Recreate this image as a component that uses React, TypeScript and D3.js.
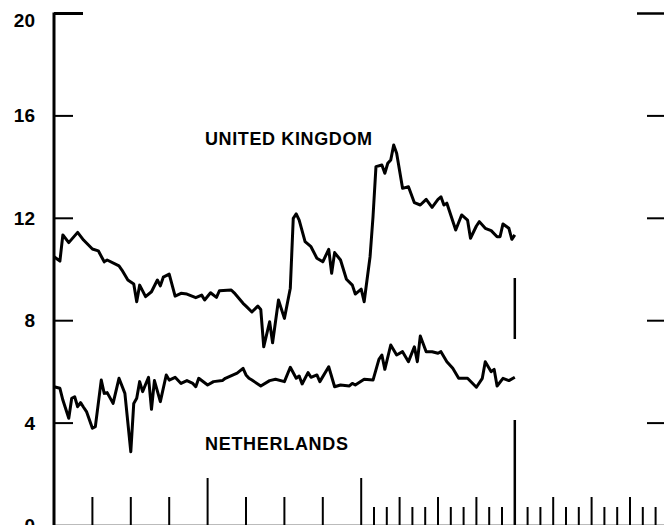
import React from 'react'
import * as d3 from 'd3'

// weekly readings, week 0 = start of the first year
const ukWeeks = [0, 2, 3, 5, 8, 10, 13, 15, 17, 18, 22, 23, 25, 27, 28, 29, 31, 33, 35, 36, 37, 39, 41, 43, 45, 48, 50, 51, 53, 55, 56, 60, 61, 64, 65, 67, 69, 70, 71, 73, 74, 76, 78, 80, 81, 82, 83, 85, 87, 89, 91, 93, 94, 95, 97, 99, 101, 102, 104, 105, 107, 108, 109, 111, 112, 113, 114, 115, 116, 118, 120, 122, 124, 126, 128, 130, 131, 132, 133, 136, 138, 140, 141, 143, 144, 146, 148, 150, 151, 152, 154, 155, 156]
const ukRates = [10.5, 10.33, 11.35, 11.05, 11.45, 11.15, 10.8, 10.73, 10.3, 10.37, 10.14, 9.98, 9.59, 9.43, 8.74, 9.39, 8.94, 9.13, 9.59, 9.36, 9.7, 9.82, 8.96, 9.07, 9.04, 8.9, 9.0, 8.81, 9.09, 8.91, 9.17, 9.2, 9.09, 8.68, 8.57, 8.34, 8.57, 8.44, 6.98, 7.96, 7.14, 8.81, 8.09, 9.27, 12.0, 12.17, 11.93, 11.09, 10.89, 10.44, 10.3, 10.79, 9.85, 10.66, 10.37, 9.62, 9.39, 9.04, 9.23, 8.74, 10.5, 12.06, 14.02, 14.08, 13.76, 14.15, 14.28, 14.86, 14.54, 13.17, 13.23, 12.61, 12.52, 12.74, 12.43, 12.74, 12.84, 12.52, 12.59, 11.54, 12.13, 11.93, 11.22, 11.7, 11.87, 11.61, 11.52, 11.28, 11.28, 11.78, 11.61, 11.18, 11.35]

const nlWeeks = [0, 2, 3, 5, 6, 7, 8, 9, 10, 11, 13, 14, 16, 17, 18, 20, 22, 24, 26, 27, 28, 29, 30, 32, 33, 34, 36, 38, 39, 41, 43, 45, 47, 48, 49, 52, 54, 57, 58, 62, 64, 65, 66, 67, 70, 73, 75, 78, 80, 82, 83, 84, 86, 87, 89, 90, 93, 95, 97, 100, 101, 102, 105, 108, 110, 111, 112, 114, 116, 118, 120, 122, 123, 124, 126, 128, 130, 131, 133, 135, 137, 140, 143, 145, 146, 148, 149, 150, 152, 154, 156]
const nlRates = [5.42, 5.36, 4.9, 4.19, 4.97, 5.03, 4.64, 4.8, 4.62, 4.45, 3.8, 3.86, 5.68, 5.16, 5.19, 4.77, 5.75, 5.16, 2.88, 4.77, 4.97, 5.62, 5.23, 5.79, 4.54, 5.66, 4.84, 5.88, 5.68, 5.79, 5.55, 5.66, 5.55, 5.42, 5.75, 5.49, 5.62, 5.66, 5.75, 5.95, 6.14, 5.88, 5.75, 5.68, 5.45, 5.66, 5.71, 5.62, 6.18, 5.75, 5.84, 5.53, 5.97, 5.79, 5.88, 5.62, 6.2, 5.42, 5.49, 5.45, 5.55, 5.49, 5.71, 5.68, 6.49, 6.66, 6.1, 7.05, 6.66, 6.79, 6.4, 6.98, 6.4, 7.4, 6.79, 6.79, 6.73, 6.79, 6.4, 6.14, 5.75, 5.75, 5.4, 5.75, 6.4, 6.01, 6.1, 5.45, 5.75, 5.66, 5.79]

const yTicks = [0, 4, 8, 12, 16, 20]
const seriesLabels = ['UNITED KINGDOM', 'NETHERLANDS']

const W = 664
const H = 525

function App() {
  const x = d3.scaleLinear().domain([0, 36]).range([54, 514.8])
  const y = d3.scaleLinear().domain([0, 20]).range([525.5, 13.5])
  const wk = (w: number) => x((w * 12) / 52)

  const line = d3.line<[number, number]>()
    .x(d => wk(d[0]))
    .y(d => y(d[1]))

  const uk = ukWeeks.map((w, i) => [w, ukRates[i]] as [number, number])
  const nl = nlWeeks.map((w, i) => [w, nlRates[i]] as [number, number])

  // month ticks: quarters only for first two years, every month after
  const months = d3.range(0, 48).filter(m => m >= 24 || m % 3 === 0)
  const tickTop = (m: number) => (m % 12 === 0 ? 478 : m % 3 === 0 ? 497 : 507)

  const font = { fontFamily: 'Liberation Sans, Arial, sans-serif', fontWeight: 700 }

  return (
    <svg width={W} height={H} style={{ position: 'absolute', left: 0, top: 0, background: '#fff' }}>
      <line x1={54} x2={664} y1={524.5} y2={524.5} stroke="#bbb" strokeWidth={1} />
      <line x1={54} x2={54} y1={12.5} y2={H} stroke="#000" strokeWidth={3} />
      <line x1={54} x2={83} y1={13.5} y2={13.5} stroke="#000" strokeWidth={3} />
      <line x1={637} x2={664} y1={13.5} y2={13.5} stroke="#000" strokeWidth={2.5} />
      {yTicks.filter(v => v > 0 && v < 20).map(v => (
        <g key={v}>
          <line x1={54} x2={73} y1={y(v)} y2={y(v)} stroke="#000" strokeWidth={2} />
          <line x1={647} x2={664} y1={y(v)} y2={y(v)} stroke="#000" strokeWidth={2} />
        </g>
      ))}
      {yTicks.map(v => (
        <text key={v} x={35} y={Math.max(y(v), 20.5)} textAnchor="end" dominantBaseline="central"
          fontSize={19} {...font}>{v}</text>
      ))}
      {months.filter(m => m > 0 && m !== 36).map(m => (
        <line key={m} x1={x(m)} x2={x(m)} y1={tickTop(m)} y2={H} stroke="#000" strokeWidth={2} />
      ))}
      <line x1={x(36)} x2={x(36)} y1={278} y2={339} stroke="#000" strokeWidth={2.5} />
      <line x1={x(36)} x2={x(36)} y1={420} y2={H} stroke="#000" strokeWidth={2.5} />
      <path d={line(uk) || ''} fill="none" stroke="#000" strokeWidth={3} strokeLinejoin="round" />
      <path d={line(nl) || ''} fill="none" stroke="#000" strokeWidth={3} strokeLinejoin="round" />
      <text x={205} y={139} dominantBaseline="central" fontSize={18} textLength={167} {...font}>{seriesLabels[0]}</text>
      <text x={205} y={443.5} dominantBaseline="central" fontSize={18} textLength={143} {...font}>{seriesLabels[1]}</text>
    </svg>
  )
}

export default App
